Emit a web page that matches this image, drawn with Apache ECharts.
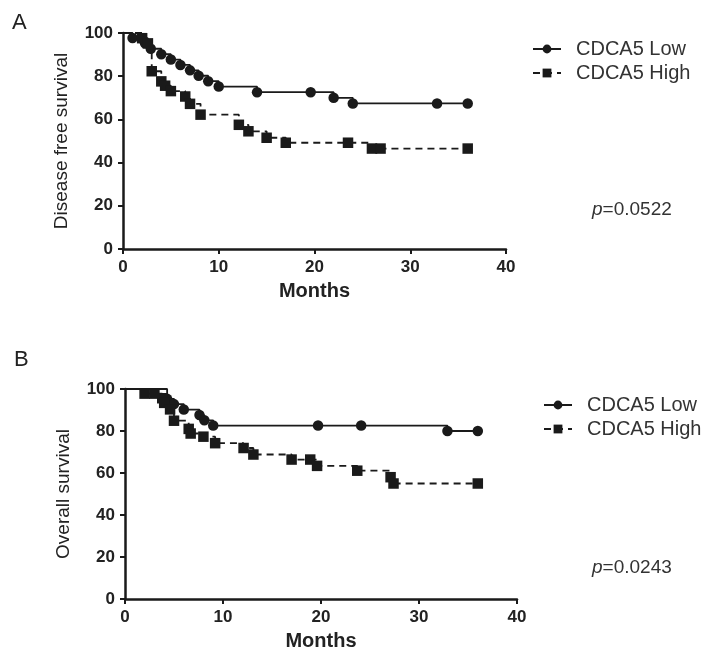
<!DOCTYPE html>
<html>
<head>
<meta charset="utf-8">
<script src="https://cdn.jsdelivr.net/npm/echarts@6/dist/echarts.min.js"></script>
<style>html,body{margin:0;background:#fff}#main{width:712px;height:652px}</style>
</head>
<body>
<div id="main"></div>
<script>
// Kaplan-Meier points: [month, survival %]
var dfsLow = [[0, 100], [1, 97.7], [2.3, 95.2], [2.9, 92.7], [4, 90.2], [5, 87.7], [6, 85.2], [7, 82.7],
  [7.9, 80.2], [8.9, 77.7], [10, 75.2], [14, 72.6], [19.6, 72.6], [22, 70], [24, 67.4], [32.8, 67.4], [36, 67.4]];
var dfsHigh = [[0, 100], [2, 97.6], [2.6, 95.2], [3, 82.3], [4, 77.6], [4.4, 75.6], [5, 73.1], [6.5, 70.6],
  [7, 67.2], [8.1, 62.2], [12.1, 57.5], [13.1, 54.5], [15, 51.5], [17, 49.2], [23.5, 49.2], [26, 46.5], [26.9, 46.5], [36, 46.5]];
var osLow = [[0, 100], [4.3, 95.3], [5, 92.8], [6, 90.2], [7.6, 87.6], [8.1, 85.1], [9, 82.6], [19.7, 82.6],
  [24.1, 82.6], [32.9, 80], [36, 80]];
var osHigh = [[0, 100], [2, 97.8], [3, 97.8], [3.8, 95.6], [4, 93.4], [4.6, 90.3], [5, 84.9], [6.5, 81],
  [6.7, 78.8], [8, 77.3], [9.2, 74.2], [12.1, 71.9], [13.1, 68.8], [17, 66.4], [18.9, 66.4], [19.6, 63.4],
  [23.7, 61.1], [27.1, 58], [27.4, 55], [36, 55]];

var seriesNames = ['CDCA5 Low', 'CDCA5 High'];
var panelTitles = ['Disease free survival', 'Overall survival'];
var pValues = ['0.0522', '0.0243'];

var myChart = echarts.init(document.getElementById('main'));
var ink = '#1a1a1a';
var font = 'Liberation Sans, Arial, sans-serif';

// first point is the curve start, drawn without a marker
function kmData(points) {
  return points.map(function (p, i) {
    return i === 0 ? { value: p, symbol: 'none' } : p;
  });
}

function xAxisFor(idx) {
  return {
    gridIndex: idx, type: 'value', min: 0, max: 40, interval: 10,
    name: 'Months', nameLocation: 'middle', nameGap: 32,
    nameTextStyle: { fontFamily: font, fontWeight: 'bold', fontSize: 20, color: '#222' },
    axisLine: { onZero: false, lineStyle: { color: ink, width: 2.5 } },
    axisTick: { length: 5, lineStyle: { color: ink, width: 2 } },
    axisLabel: { margin: 10, fontFamily: font, fontWeight: 'bold', fontSize: 17, color: '#222' },
    splitLine: { show: false }
  };
}

function yAxisFor(idx, name) {
  return {
    gridIndex: idx, type: 'value', min: 0, max: 100, interval: 20,
    name: name, nameLocation: 'middle', nameGap: 52, nameRotate: 90,
    nameTextStyle: { fontFamily: font, fontSize: 19, color: '#222' },
    axisLine: { onZero: false, lineStyle: { color: ink, width: 2.5 } },
    axisTick: { length: 5, lineStyle: { color: ink, width: 2 } },
    axisLabel: { margin: 10, fontFamily: font, fontWeight: 'bold', fontSize: 17, color: '#222' },
    splitLine: { show: false }
  };
}

function kmSeries(idx, name, points, dashed) {
  return {
    name: name, type: 'line', step: 'end',
    xAxisIndex: idx, yAxisIndex: idx,
    data: kmData(points),
    symbol: dashed ? 'rect' : 'circle', symbolSize: 10.5,
    itemStyle: { color: ink },
    lineStyle: { color: ink, width: 1.8, type: dashed ? [7, 5] : 'solid' },
    emphasis: { disabled: true },
    animation: false
  };
}

function legendFor(left, top) {
  return {
    orient: 'vertical', left: left, top: top,
    itemWidth: 28, itemHeight: 11, itemGap: 4,
    data: seriesNames,
    textStyle: { fontFamily: font, fontSize: 20, color: '#333', padding: [0, 0, 0, 10] }
  };
}

option = {
  backgroundColor: '#fff',
  grid: [
    { left: 123, top: 33, width: 383, height: 216 },
    { left: 125, top: 389, width: 392, height: 217 }
  ],
  xAxis: [xAxisFor(0), xAxisFor(1)],
  yAxis: [yAxisFor(0, panelTitles[0]), yAxisFor(1, panelTitles[1])],
  legend: [legendFor(527, 34), legendFor(538, 390)],
  series: [
    kmSeries(0, seriesNames[0], dfsLow, false),
    kmSeries(0, seriesNames[1], dfsHigh, true),
    kmSeries(1, seriesNames[0], osLow, false),
    kmSeries(1, seriesNames[1], osHigh, true)
  ],
  graphic: [
    { type: 'text', left: 12, top: 12, style: { text: 'A', font: '22px ' + font, fill: '#222' } },
    { type: 'text', left: 14, top: 349, style: { text: 'B', font: '22px ' + font, fill: '#222' } },
    {
      type: 'text', left: 592, top: 200,
      style: {
        text: '{i|p}=' + pValues[0], font: '19px ' + font, fill: '#333',
        rich: { i: { fontStyle: 'italic', fontFamily: font, fontSize: 19, fill: '#333' } }
      }
    },
    {
      type: 'text', left: 592, top: 558,
      style: {
        text: '{i|p}=' + pValues[1], font: '19px ' + font, fill: '#333',
        rich: { i: { fontStyle: 'italic', fontFamily: font, fontSize: 19, fill: '#333' } }
      }
    }
  ]
};

myChart.setOption(option);
</script>
</body>
</html>
